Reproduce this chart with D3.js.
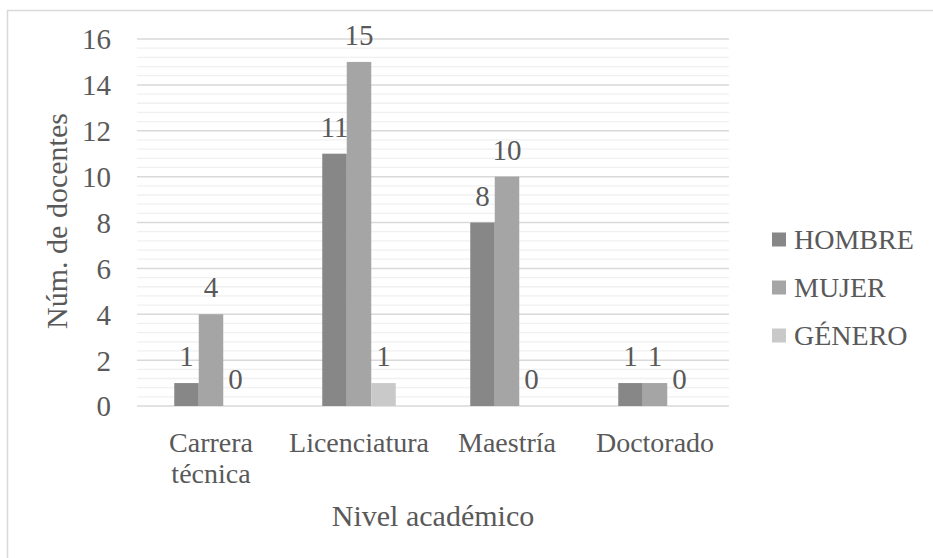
<!DOCTYPE html>
<html>
<head>
<meta charset="utf-8">
<script src="https://cdn.jsdelivr.net/npm/d3@7"></script>
</head>
<body style="margin:0">
<svg id="chart" width="933" height="558" font-family="Liberation Serif" style="display:block;font-family:'Liberation Serif'"></svg>
<script>
// Docentes por nivel académico y género
const categories = ["Carrera técnica", "Licenciatura", "Maestría", "Doctorado"];
const categoryLines = [["Carrera", "técnica"], ["Licenciatura"], ["Maestría"], ["Doctorado"]];
const seriesNames = ["HOMBRE", "MUJER", "GÉNERO"];
const hombre = [1, 11, 8, 1];
const mujer = [4, 15, 10, 1];
const genero = [0, 1, 0, 0];
const yTicks = [0, 2, 4, 6, 8, 10, 12, 14, 16];
const colors = ["#878787", "#a5a5a5", "#c9c9c9"];

const seriesValues = [hombre, mujer, genero];
const svg = d3.select("#chart");

function styleText(sel, size) {
  return sel
    .attr("font-family", "Liberation Serif")
    .style("font-family", "'Liberation Serif'", "important")
    .style("font-size", size + "px")
    .attr("fill", "#595959");
}

// chart frame
svg.append("rect")
  .attr("x", 7.5).attr("y", 10.5)
  .attr("width", 1000).attr("height", 1000)
  .attr("fill", "none").attr("stroke", "#d9d9d9").attr("stroke-width", 1.5);

const plot = { left: 137, right: 729, top: 39, bottom: 406 };

const y = d3.scaleLinear().domain([0, 16]).range([plot.bottom, plot.top]);
const x0 = d3.scaleBand().domain(categories).range([plot.left, plot.right]).padding(0);
const barW = 24.5;
const groupW = barW * seriesNames.length;
const barX = (i, si) => x0(categories[i]) + x0.bandwidth() / 2 - groupW / 2 + si * barW;

// minor gridlines every 0.4
const minor = d3.range(0, 16.0001, 0.4).filter(v => Math.abs(v / 2 - Math.round(v / 2)) > 1e-6);
svg.append("g").selectAll("line").data(minor).join("line")
  .attr("x1", plot.left).attr("x2", plot.right)
  .attr("y1", d => y(d)).attr("y2", d => y(d))
  .attr("stroke", "#f0f0f0").attr("stroke-width", 1.3);

// major gridlines
svg.append("g").selectAll("line").data(yTicks).join("line")
  .attr("x1", plot.left).attr("x2", plot.right)
  .attr("y1", d => y(d)).attr("y2", d => y(d))
  .attr("stroke", "#d9d9d9").attr("stroke-width", 1.5);

// y axis labels
const yAxis = d3.axisLeft(y).tickValues(yTicks).tickSize(0).tickPadding(0);
const yg = svg.append("g").attr("transform", "translate(111,0)").call(yAxis);
yg.select(".domain").remove();
yg.attr("font-family", "Liberation Serif").attr("font-size", null);
styleText(yg.selectAll("text"), 29).attr("dy", "0.34em");

// bars and value labels
const barsG = svg.append("g");
seriesValues.forEach((vals, si) => {
  barsG.append("g").selectAll("rect").data(vals).join("rect")
    .attr("x", (d, i) => barX(i, si))
    .attr("y", d => y(d))
    .attr("width", barW)
    .attr("height", d => y(0) - y(d))
    .attr("fill", colors[si]);
  styleText(barsG.append("g").selectAll("text").data(vals).join("text")
    .attr("x", (d, i) => barX(i, si) + barW / 2)
    .attr("y", d => y(d) - 17)
    .attr("text-anchor", "middle")
    .text(d => d), 29);
});

// category labels
categoryLines.forEach((lines, i) => {
  const cx = x0(categories[i]) + x0.bandwidth() / 2;
  const t = styleText(svg.append("text")
    .attr("x", cx).attr("y", 452)
    .attr("text-anchor", "middle"), 28);
  lines.forEach((ln, k) => {
    t.append("tspan").attr("x", cx).attr("dy", k === 0 ? 0 : 31).text(ln);
  });
});

// axis titles
styleText(svg.append("text")
  .attr("x", (plot.left + plot.right) / 2).attr("y", 526)
  .attr("text-anchor", "middle")
  .text("Nivel académico"), 30);

styleText(svg.append("text")
  .attr("transform", "translate(67,221) rotate(-90)")
  .attr("text-anchor", "middle")
  .text("Núm. de docentes"), 30);

// legend
const legend = svg.append("g");
seriesNames.forEach((name, i) => {
  const cy = 239.5 + i * 48;
  legend.append("rect")
    .attr("x", 772).attr("y", cy - 7).attr("width", 14).attr("height", 14)
    .attr("fill", colors[i]);
  styleText(legend.append("text")
    .attr("x", 794).attr("y", cy + 9.5)
    .text(name), 28);
});
</script>
</body>
</html>
